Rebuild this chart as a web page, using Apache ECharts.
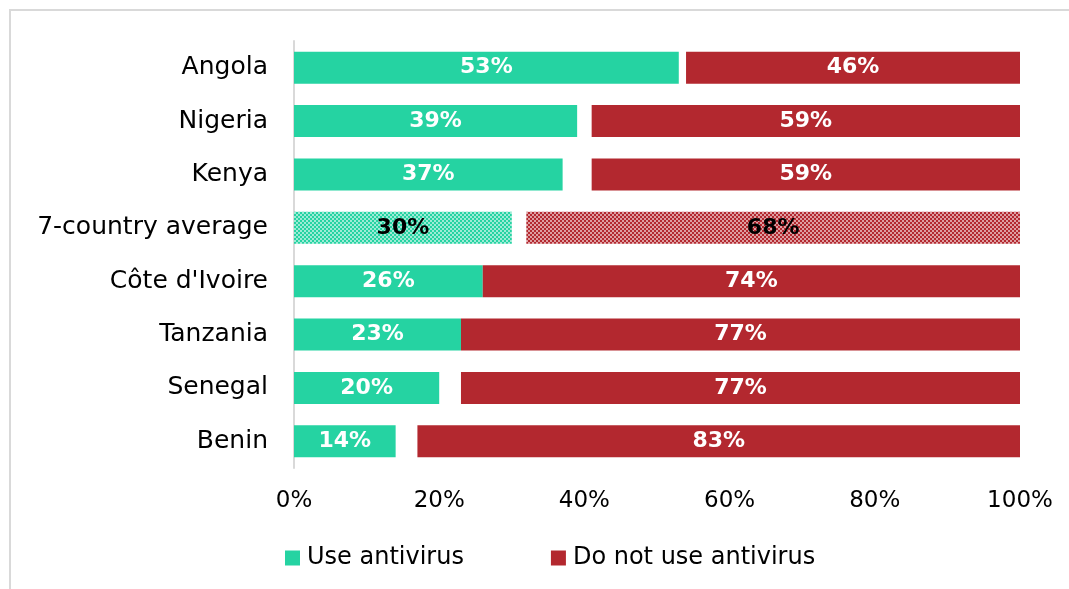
<!DOCTYPE html>
<html>
<head>
<meta charset="utf-8">
<style>
  html, body { margin: 0; padding: 0; background: #fff; }
  #chart { width: 1069px; height: 589px; }
</style>
<script src="https://cdn.jsdelivr.net/npm/echarts@6/dist/echarts.min.js"></script>
</head>
<body>
<div id="chart"></div>
<script>
// Share of respondents who use antivirus software, by country
const categories = ['Angola', 'Nigeria', 'Kenya', '7-country average', "Côte d'Ivoire", 'Tanzania', 'Senegal', 'Benin'];
const useAntivirus = [53, 39, 37, 30, 26, 23, 20, 14];
const doNotUse = [46, 59, 59, 68, 74, 77, 77, 83];
const xTicks = [0, 20, 40, 60, 80, 100];

const GREEN = '#25D3A2';
const RED = '#B3282F';
const AVG = '7-country average';
const FONT = '"Century Gothic", "DejaVu Sans", sans-serif';

// Remainder (neither answer) is left blank between the two bars
const remainder = useAntivirus.map((u, i) => Math.max(0, 100 - u - doNotUse[i]));

// Checkered fill used for the average row
function checker(color) {
  const c = document.createElement('canvas');
  c.width = 4; c.height = 4;
  const ctx = c.getContext('2d');
  ctx.fillStyle = '#ffffff';
  ctx.fillRect(0, 0, 4, 4);
  ctx.fillStyle = color;
  ctx.fillRect(0, 0, 2, 2);
  ctx.fillRect(2, 2, 2, 2);
  ctx.globalAlpha = 0.45;
  ctx.fillRect(2, 0, 2, 2);
  ctx.fillRect(0, 2, 2, 2);
  return { image: c, repeat: 'repeat' };
}

function seriesData(values, color) {
  return values.map((v, i) => {
    if (categories[i] === AVG) {
      return { value: v, itemStyle: { color: checker(color) }, label: { color: '#000' } };
    }
    return v;
  });
}

const labelStyle = {
  show: true,
  position: 'inside',
  formatter: '{c}%',
  color: '#fff',
  fontFamily: FONT,
  fontWeight: 'bold',
  fontSize: 22
};

const chart = echarts.init(document.getElementById('chart'), null, { renderer: 'canvas' });
chart.setOption({
  animation: false,
  backgroundColor: '#fff',
  graphic: [{
    type: 'rect',
    shape: { x: 10, y: 10, width: 1200, height: 700 },
    style: { fill: 'none', stroke: '#d9d9d9', lineWidth: 2 },
    silent: true,
    z: -10
  }],
  grid: { left: 294, right: 49, top: 41, bottom: 121, containLabel: false },
  legend: {
    data: ['Use antivirus', 'Do not use antivirus'],
    left: 280,
    top: 541,
    icon: 'rect',
    itemWidth: 15,
    itemHeight: 15,
    itemGap: 87,
    textStyle: { fontFamily: FONT, fontSize: 24, color: '#000', padding: [0, 0, 0, 2] }
  },
  xAxis: {
    type: 'value',
    min: 0,
    max: 100,
    interval: 20,
    axisLine: { show: false },
    axisTick: { show: false },
    splitLine: { show: false },
    axisLabel: {
      formatter: v => xTicks.includes(v) ? v + '%' : '',
      fontFamily: FONT,
      fontSize: 23,
      color: '#000',
      margin: 22
    }
  },
  yAxis: {
    type: 'category',
    data: categories,
    inverse: true,
    axisLine: { show: true, lineStyle: { color: '#d9d9d9', width: 2 } },
    axisTick: { show: false },
    axisLabel: { fontFamily: FONT, fontSize: 25, color: '#000', margin: 26 }
  },
  series: [
    {
      name: 'Use antivirus',
      type: 'bar',
      stack: 'total',
      barWidth: 32,
      itemStyle: { color: GREEN },
      label: labelStyle,
      data: seriesData(useAntivirus, GREEN)
    },
    {
      name: 'remainder',
      type: 'bar',
      stack: 'total',
      itemStyle: { color: 'rgba(0,0,0,0)' },
      label: { show: false },
      silent: true,
      data: remainder
    },
    {
      name: 'Do not use antivirus',
      type: 'bar',
      stack: 'total',
      itemStyle: { color: RED },
      label: labelStyle,
      data: seriesData(doNotUse, RED)
    }
  ]
});
</script>
</body>
</html>
